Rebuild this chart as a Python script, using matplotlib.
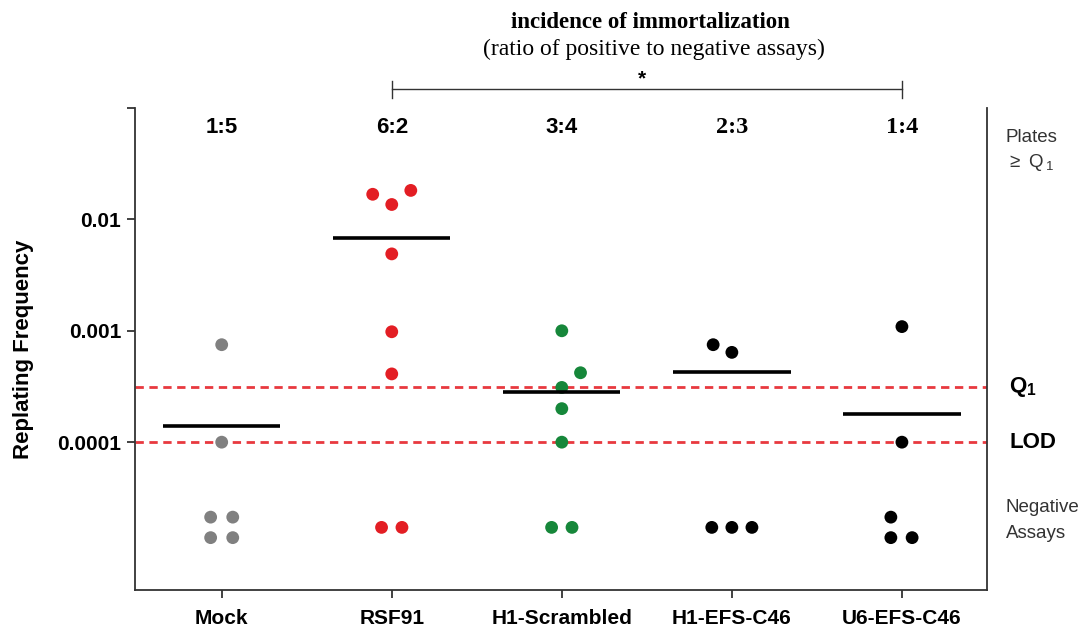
import matplotlib
matplotlib.use('Agg')
import matplotlib.pyplot as plt
import matplotlib.transforms as mtransforms
import numpy as np

plt.rcParams['font.family'] = ['Liberation Sans', 'DejaVu Sans']
plt.rcParams['mathtext.fontset'] = 'custom'
plt.rcParams['mathtext.rm'] = 'Liberation Sans'
plt.rcParams['mathtext.bf'] = 'Liberation Sans:bold'

# ===== DATA =====
groups = ['Mock', 'RSF91', 'H1-Scrambled', 'H1-EFS-C46', 'U6-EFS-C46']
colors = ['#808080', '#e31e24', '#16873a', '#000000', '#000000']
ratios = ['1:5', '6:2', '3:4', '2:3', '1:4']
ratio_serif = [False, False, False, True, True]

# replating frequencies of assays that gave a count
mock_vals = [7.5e-4, 1.0e-4]
rsf91_vals = [1.68e-2, 1.82e-2, 1.36e-2, 4.9e-3, 9.8e-4, 4.1e-4]
h1scr_vals = [1.0e-3, 4.2e-4, 3.1e-4, 2.0e-4, 1.0e-4]
h1efs_vals = [7.5e-4, 6.4e-4]
u6efs_vals = [1.09e-3, 1.0e-4]
group_vals = [mock_vals, rsf91_vals, h1scr_vals, h1efs_vals, u6efs_vals]

# assays with no colonies
n_negative = [4, 2, 2, 3, 3]

# group means (horizontal bars)
group_means = [1.39e-4, 6.75e-3, 2.8e-4, 4.25e-4, 1.78e-4]

q1 = 3.1e-4
lod = 1.0e-4

# ===== LAYOUT =====
# horizontal jitter of points within each group
val_jitter = [
    [0, 0],
    [-0.112, 0.112, 0, 0, 0, 0],
    [0, 0.11, 0, 0, 0],
    [-0.11, 0],
    [0, 0],
]
# placement of the negative-assay dots (x offset, log10 level)
neg_layout = [
    [(-0.065, -4.673), (0.065, -4.673), (-0.065, -4.857), (0.065, -4.857)],
    [(-0.06, -4.765), (0.06, -4.765)],
    [(-0.06, -4.765), (0.06, -4.765)],
    [(-0.118, -4.765), (0, -4.765), (0.118, -4.765)],
    [(-0.065, -4.673), (-0.065, -4.857), (0.06, -4.857)],
]

# ===== PLOTTING =====
fig = plt.figure(figsize=(10.92, 6.3), dpi=100)
ax = fig.add_axes([0.1236, 0.0635, 0.7802, 0.7651])
ax.set_yscale('log')
ax.set_xlim(-0.51, 4.5)
ax.set_ylim(10 ** -5.327, 0.1)

ax.axhline(q1, color='#e8393f', lw=2, ls=(0, (3, 2)), zorder=1)
ax.axhline(lod, color='#e8393f', lw=2, ls=(0, (3, 2)), zorder=1)

for i, g in enumerate(groups):
    xs = [i + j for j in val_jitter[i]]
    ax.scatter(xs, group_vals[i], s=85, color=colors[i], edgecolors='none', zorder=3)
    nx = [i + p[0] for p in neg_layout[i][:n_negative[i]]]
    ny = [10 ** p[1] for p in neg_layout[i][:n_negative[i]]]
    ax.scatter(nx, ny, s=85, color=colors[i], edgecolors='none', zorder=3)
    ax.hlines(group_means[i], i - 0.345, i + 0.345, color='black', lw=2.6, zorder=4)

ax.set_xticks(range(len(groups)))
ax.set_xticklabels(groups, fontsize=15, fontweight='bold')
ax.set_yticks([1e-4, 1e-3, 1e-2, 1e-1])
ax.set_yticklabels(['0.0001', '0.001', '0.01', ''], fontsize=15, fontweight='bold')
ax.yaxis.set_minor_locator(matplotlib.ticker.NullLocator())
ax.tick_params(axis='both', direction='out', length=6, width=1.3, color='#333333')
ax.tick_params(axis='x', pad=8)
ax.tick_params(axis='y', pad=4)
ax.set_ylabel('Replating Frequency', fontsize=16, fontweight='bold')
ax.yaxis.set_label_coords(-0.1185, 0.5)

ax.spines['top'].set_visible(False)
for s in ['left', 'bottom', 'right']:
    ax.spines[s].set_linewidth(1.3)
    ax.spines[s].set_color('#333333')

# ratio of positive to negative assays above each group
for i, r in enumerate(ratios):
    if ratio_serif[i]:
        fam, fs = ['Liberation Serif'], 17.5
    else:
        fam, fs = ['Liberation Sans'], 16
    ax.text(i, 0.9585, r, transform=ax.get_xaxis_transform(), ha='center', va='center',
            fontsize=fs, fontweight='bold', family=fam)

# labels on the right side
ax.text(1.022, 0.938, 'Plates', transform=ax.transAxes, ha='left', va='center',
        fontsize=13.5, color='#333333')
ax.text(1.022, 0.886, r'$\geq$ Q$_{\,1}$', transform=ax.transAxes, ha='left', va='center',
        fontsize=13.5, color='#333333')
ax.text(1.026, q1, r'$\mathbf{Q_1}$', transform=ax.get_yaxis_transform(), ha='left', va='center',
        fontsize=16, color='black')
ax.text(1.026, lod, 'LOD', transform=ax.get_yaxis_transform(), ha='left', va='center',
        fontsize=16, fontweight='bold')
ax.text(1.022, 0.172, 'Negative', transform=ax.transAxes, ha='left', va='center',
        fontsize=13.5, color='#333333')
ax.text(1.022, 0.118, 'Assays', transform=ax.transAxes, ha='left', va='center',
        fontsize=13.5, color='#333333')

# header and significance bracket
trans = mtransforms.blended_transform_factory(ax.transData, fig.transFigure)
ax.text(2.52, 0.965, 'incidence of immortalization', transform=trans, ha='center', va='center',
        fontsize=16.5, fontweight='bold', family=['Liberation Serif'])
ax.text(2.54, 0.922, '(ratio of positive to negative assays)', transform=trans, ha='center',
        va='center', fontsize=17, family=['Liberation Serif'])
ax.plot([1, 4], [0.8587, 0.8587], color='#333333', lw=1, transform=trans, clip_on=False)
ax.plot([1, 1], [0.871, 0.8444], color='#333333', lw=1, transform=trans, clip_on=False)
ax.plot([4, 4], [0.871, 0.8444], color='#333333', lw=1, transform=trans, clip_on=False)
ax.text(2.47, 0.875, '*', transform=trans, ha='center', va='center', fontsize=15,
        fontweight='bold')

fig.savefig('out.png', dpi=100)
